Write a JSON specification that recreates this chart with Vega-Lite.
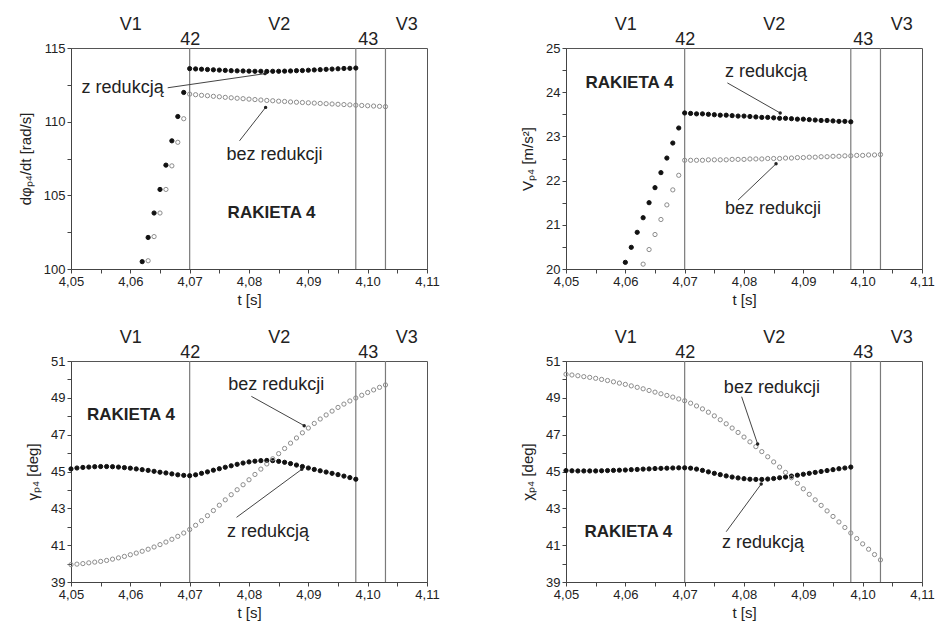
{
"$schema": "https://vega.github.io/schema/vega-lite/v6.json",
"padding": {"left": 17, "top": 14, "right": 4, "bottom": 2},
"background": "white",
"config": {
 "view": {"stroke": "#555555", "strokeWidth": 1},
 "axis": {"grid": false, "domainColor": "#444444", "tickColor": "#444444", "labelColor": "#222222", "labelFont": "Liberation Sans", "labelFontSize": 13, "titleFont": "Liberation Sans", "titleFontSize": 15, "titleFontWeight": "normal", "titleColor": "#222222", "labelOverlap": false, "labelFlush": false},
 "text": {"font": "Liberation Sans", "fontSize": 18, "color": "#222222"}
},
"datasets": {
 "p1": [
  {"t":4.062,"v":100.5,"s":"z"},{"t":4.063,"v":102.14,"s":"z"},{"t":4.064,"v":103.8,"s":"z"},{"t":4.065,"v":105.4,"s":"z"},{"t":4.066,"v":107.05,"s":"z"},{"t":4.067,"v":108.7,"s":"z"},{"t":4.068,"v":110.35,"s":"z"},{"t":4.069,"v":111.98,"s":"z"},
  {"t":4.070,"v":113.6,"s":"z"},{"t":4.071,"v":113.58,"s":"z"},{"t":4.072,"v":113.56,"s":"z"},{"t":4.073,"v":113.54,"s":"z"},{"t":4.074,"v":113.52,"s":"z"},{"t":4.075,"v":113.5,"s":"z"},{"t":4.076,"v":113.48,"s":"z"},{"t":4.077,"v":113.46,"s":"z"},{"t":4.078,"v":113.45,"s":"z"},{"t":4.079,"v":113.44,"s":"z"},{"t":4.080,"v":113.43,"s":"z"},{"t":4.081,"v":113.42,"s":"z"},{"t":4.082,"v":113.42,"s":"z"},{"t":4.083,"v":113.41,"s":"z"},{"t":4.084,"v":113.42,"s":"z"},{"t":4.085,"v":113.42,"s":"z"},{"t":4.086,"v":113.43,"s":"z"},{"t":4.087,"v":113.44,"s":"z"},{"t":4.088,"v":113.46,"s":"z"},{"t":4.089,"v":113.47,"s":"z"},{"t":4.090,"v":113.49,"s":"z"},{"t":4.091,"v":113.51,"s":"z"},{"t":4.092,"v":113.53,"s":"z"},{"t":4.093,"v":113.55,"s":"z"},{"t":4.094,"v":113.57,"s":"z"},{"t":4.095,"v":113.59,"s":"z"},{"t":4.096,"v":113.61,"s":"z"},{"t":4.097,"v":113.62,"s":"z"},{"t":4.098,"v":113.64,"s":"z"},
  {"t":4.063,"v":100.56,"s":"b"},{"t":4.064,"v":102.2,"s":"b"},{"t":4.065,"v":103.8,"s":"b"},{"t":4.066,"v":105.4,"s":"b"},{"t":4.067,"v":107.0,"s":"b"},{"t":4.068,"v":108.6,"s":"b"},{"t":4.069,"v":110.2,"s":"b"},
  {"t":4.070,"v":111.87,"s":"b"},{"t":4.071,"v":111.83,"s":"b"},{"t":4.072,"v":111.79,"s":"b"},{"t":4.073,"v":111.76,"s":"b"},{"t":4.074,"v":111.72,"s":"b"},{"t":4.075,"v":111.69,"s":"b"},{"t":4.076,"v":111.65,"s":"b"},{"t":4.077,"v":111.62,"s":"b"},{"t":4.078,"v":111.59,"s":"b"},{"t":4.079,"v":111.56,"s":"b"},{"t":4.080,"v":111.53,"s":"b"},{"t":4.081,"v":111.5,"s":"b"},{"t":4.082,"v":111.47,"s":"b"},{"t":4.083,"v":111.44,"s":"b"},{"t":4.084,"v":111.42,"s":"b"},{"t":4.085,"v":111.39,"s":"b"},{"t":4.086,"v":111.37,"s":"b"},{"t":4.087,"v":111.34,"s":"b"},{"t":4.088,"v":111.32,"s":"b"},{"t":4.089,"v":111.3,"s":"b"},{"t":4.090,"v":111.28,"s":"b"},{"t":4.091,"v":111.26,"s":"b"},{"t":4.092,"v":111.24,"s":"b"},{"t":4.093,"v":111.22,"s":"b"},{"t":4.094,"v":111.2,"s":"b"},{"t":4.095,"v":111.18,"s":"b"},{"t":4.096,"v":111.16,"s":"b"},{"t":4.097,"v":111.14,"s":"b"},{"t":4.098,"v":111.12,"s":"b"},{"t":4.099,"v":111.1,"s":"b"},{"t":4.100,"v":111.08,"s":"b"},{"t":4.101,"v":111.06,"s":"b"},{"t":4.102,"v":111.04,"s":"b"},{"t":4.103,"v":111.02,"s":"b"}
 ],
 "p2": [
  {"t":4.060,"v":20.15,"s":"z"},{"t":4.061,"v":20.49,"s":"z"},{"t":4.062,"v":20.83,"s":"z"},{"t":4.063,"v":21.16,"s":"z"},{"t":4.064,"v":21.5,"s":"z"},{"t":4.065,"v":21.84,"s":"z"},{"t":4.066,"v":22.18,"s":"z"},{"t":4.067,"v":22.51,"s":"z"},{"t":4.068,"v":22.85,"s":"z"},{"t":4.069,"v":23.19,"s":"z"},
  {"t":4.070,"v":23.53,"s":"z"},{"t":4.071,"v":23.52,"s":"z"},{"t":4.072,"v":23.51,"s":"z"},{"t":4.073,"v":23.51,"s":"z"},{"t":4.074,"v":23.5,"s":"z"},{"t":4.075,"v":23.49,"s":"z"},{"t":4.076,"v":23.48,"s":"z"},{"t":4.077,"v":23.48,"s":"z"},{"t":4.078,"v":23.47,"s":"z"},{"t":4.079,"v":23.46,"s":"z"},{"t":4.080,"v":23.46,"s":"z"},{"t":4.081,"v":23.45,"s":"z"},{"t":4.082,"v":23.44,"s":"z"},{"t":4.083,"v":23.43,"s":"z"},{"t":4.084,"v":23.43,"s":"z"},{"t":4.085,"v":23.42,"s":"z"},{"t":4.086,"v":23.41,"s":"z"},{"t":4.087,"v":23.41,"s":"z"},{"t":4.088,"v":23.4,"s":"z"},{"t":4.089,"v":23.39,"s":"z"},{"t":4.090,"v":23.39,"s":"z"},{"t":4.091,"v":23.38,"s":"z"},{"t":4.092,"v":23.37,"s":"z"},{"t":4.093,"v":23.36,"s":"z"},{"t":4.094,"v":23.36,"s":"z"},{"t":4.095,"v":23.35,"s":"z"},{"t":4.096,"v":23.34,"s":"z"},{"t":4.097,"v":23.34,"s":"z"},{"t":4.098,"v":23.33,"s":"z"},
  {"t":4.063,"v":20.11,"s":"b"},{"t":4.064,"v":20.44,"s":"b"},{"t":4.065,"v":20.78,"s":"b"},{"t":4.066,"v":21.12,"s":"b"},{"t":4.067,"v":21.45,"s":"b"},{"t":4.068,"v":21.79,"s":"b"},{"t":4.069,"v":22.12,"s":"b"},
  {"t":4.070,"v":22.46,"s":"b"},{"t":4.071,"v":22.46,"s":"b"},{"t":4.072,"v":22.46,"s":"b"},{"t":4.073,"v":22.46,"s":"b"},{"t":4.074,"v":22.47,"s":"b"},{"t":4.075,"v":22.47,"s":"b"},{"t":4.076,"v":22.47,"s":"b"},{"t":4.077,"v":22.47,"s":"b"},{"t":4.078,"v":22.48,"s":"b"},{"t":4.079,"v":22.48,"s":"b"},{"t":4.080,"v":22.48,"s":"b"},{"t":4.081,"v":22.49,"s":"b"},{"t":4.082,"v":22.49,"s":"b"},{"t":4.083,"v":22.49,"s":"b"},{"t":4.084,"v":22.5,"s":"b"},{"t":4.085,"v":22.5,"s":"b"},{"t":4.086,"v":22.5,"s":"b"},{"t":4.087,"v":22.51,"s":"b"},{"t":4.088,"v":22.51,"s":"b"},{"t":4.089,"v":22.52,"s":"b"},{"t":4.090,"v":22.52,"s":"b"},{"t":4.091,"v":22.53,"s":"b"},{"t":4.092,"v":22.53,"s":"b"},{"t":4.093,"v":22.54,"s":"b"},{"t":4.094,"v":22.54,"s":"b"},{"t":4.095,"v":22.55,"s":"b"},{"t":4.096,"v":22.55,"s":"b"},{"t":4.097,"v":22.56,"s":"b"},{"t":4.098,"v":22.56,"s":"b"},{"t":4.099,"v":22.57,"s":"b"},{"t":4.100,"v":22.57,"s":"b"},{"t":4.101,"v":22.58,"s":"b"},{"t":4.102,"v":22.58,"s":"b"},{"t":4.103,"v":22.59,"s":"b"}
 ],
 "p3": [
  {"t":4.050,"v":45.14,"s":"z"},{"t":4.051,"v":45.19,"s":"z"},{"t":4.052,"v":45.22,"s":"z"},{"t":4.053,"v":45.24,"s":"z"},{"t":4.054,"v":45.26,"s":"z"},{"t":4.055,"v":45.27,"s":"z"},{"t":4.056,"v":45.27,"s":"z"},{"t":4.057,"v":45.26,"s":"z"},{"t":4.058,"v":45.24,"s":"z"},{"t":4.059,"v":45.21,"s":"z"},{"t":4.060,"v":45.18,"s":"z"},{"t":4.061,"v":45.14,"s":"z"},{"t":4.062,"v":45.1,"s":"z"},{"t":4.063,"v":45.06,"s":"z"},{"t":4.064,"v":45.01,"s":"z"},{"t":4.065,"v":44.96,"s":"z"},{"t":4.066,"v":44.92,"s":"z"},{"t":4.067,"v":44.87,"s":"z"},{"t":4.068,"v":44.82,"s":"z"},{"t":4.069,"v":44.79,"s":"z"},{"t":4.070,"v":44.77,"s":"z"},{"t":4.071,"v":44.82,"s":"z"},{"t":4.072,"v":44.9,"s":"z"},{"t":4.073,"v":44.98,"s":"z"},{"t":4.074,"v":45.07,"s":"z"},{"t":4.075,"v":45.15,"s":"z"},{"t":4.076,"v":45.23,"s":"z"},{"t":4.077,"v":45.31,"s":"z"},{"t":4.078,"v":45.39,"s":"z"},{"t":4.079,"v":45.46,"s":"z"},{"t":4.080,"v":45.52,"s":"z"},{"t":4.081,"v":45.56,"s":"z"},{"t":4.082,"v":45.59,"s":"z"},{"t":4.083,"v":45.6,"s":"z"},{"t":4.084,"v":45.59,"s":"z"},{"t":4.085,"v":45.55,"s":"z"},{"t":4.086,"v":45.5,"s":"z"},{"t":4.087,"v":45.43,"s":"z"},{"t":4.088,"v":45.35,"s":"z"},{"t":4.089,"v":45.27,"s":"z"},{"t":4.090,"v":45.19,"s":"z"},{"t":4.091,"v":45.11,"s":"z"},{"t":4.092,"v":45.04,"s":"z"},{"t":4.093,"v":44.97,"s":"z"},{"t":4.094,"v":44.9,"s":"z"},{"t":4.095,"v":44.83,"s":"z"},{"t":4.096,"v":44.75,"s":"z"},{"t":4.097,"v":44.67,"s":"z"},{"t":4.098,"v":44.58,"s":"z"},
  {"t":4.050,"v":39.94,"s":"b"},{"t":4.051,"v":39.97,"s":"b"},{"t":4.052,"v":40.0,"s":"b"},{"t":4.053,"v":40.04,"s":"b"},{"t":4.054,"v":40.08,"s":"b"},{"t":4.055,"v":40.12,"s":"b"},{"t":4.056,"v":40.17,"s":"b"},{"t":4.057,"v":40.24,"s":"b"},{"t":4.058,"v":40.31,"s":"b"},{"t":4.059,"v":40.39,"s":"b"},{"t":4.060,"v":40.48,"s":"b"},{"t":4.061,"v":40.57,"s":"b"},{"t":4.062,"v":40.67,"s":"b"},{"t":4.063,"v":40.78,"s":"b"},{"t":4.064,"v":40.9,"s":"b"},{"t":4.065,"v":41.03,"s":"b"},{"t":4.066,"v":41.17,"s":"b"},{"t":4.067,"v":41.32,"s":"b"},{"t":4.068,"v":41.48,"s":"b"},{"t":4.069,"v":41.66,"s":"b"},{"t":4.070,"v":41.85,"s":"b"},{"t":4.071,"v":42.08,"s":"b"},{"t":4.072,"v":42.33,"s":"b"},{"t":4.073,"v":42.6,"s":"b"},{"t":4.074,"v":42.88,"s":"b"},{"t":4.075,"v":43.17,"s":"b"},{"t":4.076,"v":43.46,"s":"b"},{"t":4.077,"v":43.74,"s":"b"},{"t":4.078,"v":44.01,"s":"b"},{"t":4.079,"v":44.28,"s":"b"},{"t":4.080,"v":44.55,"s":"b"},{"t":4.081,"v":44.84,"s":"b"},{"t":4.082,"v":45.13,"s":"b"},{"t":4.083,"v":45.41,"s":"b"},{"t":4.084,"v":45.69,"s":"b"},{"t":4.085,"v":45.97,"s":"b"},{"t":4.086,"v":46.25,"s":"b"},{"t":4.087,"v":46.54,"s":"b"},{"t":4.088,"v":46.82,"s":"b"},{"t":4.089,"v":47.1,"s":"b"},{"t":4.090,"v":47.36,"s":"b"},{"t":4.091,"v":47.61,"s":"b"},{"t":4.092,"v":47.85,"s":"b"},{"t":4.093,"v":48.07,"s":"b"},{"t":4.094,"v":48.28,"s":"b"},{"t":4.095,"v":48.48,"s":"b"},{"t":4.096,"v":48.66,"s":"b"},{"t":4.097,"v":48.83,"s":"b"},{"t":4.098,"v":48.99,"s":"b"},{"t":4.099,"v":49.14,"s":"b"},{"t":4.100,"v":49.29,"s":"b"},{"t":4.101,"v":49.43,"s":"b"},{"t":4.102,"v":49.57,"s":"b"},{"t":4.103,"v":49.7,"s":"b"}
 ],
 "p4": [
  {"t":4.050,"v":45.05,"s":"z"},{"t":4.051,"v":45.04,"s":"z"},{"t":4.052,"v":45.03,"s":"z"},{"t":4.053,"v":45.03,"s":"z"},{"t":4.054,"v":45.03,"s":"z"},{"t":4.055,"v":45.03,"s":"z"},{"t":4.056,"v":45.04,"s":"z"},{"t":4.057,"v":45.05,"s":"z"},{"t":4.058,"v":45.06,"s":"z"},{"t":4.059,"v":45.07,"s":"z"},{"t":4.060,"v":45.08,"s":"z"},{"t":4.061,"v":45.1,"s":"z"},{"t":4.062,"v":45.11,"s":"z"},{"t":4.063,"v":45.13,"s":"z"},{"t":4.064,"v":45.14,"s":"z"},{"t":4.065,"v":45.16,"s":"z"},{"t":4.066,"v":45.17,"s":"z"},{"t":4.067,"v":45.18,"s":"z"},{"t":4.068,"v":45.19,"s":"z"},{"t":4.069,"v":45.2,"s":"z"},{"t":4.070,"v":45.2,"s":"z"},{"t":4.071,"v":45.18,"s":"z"},{"t":4.072,"v":45.13,"s":"z"},{"t":4.073,"v":45.06,"s":"z"},{"t":4.074,"v":44.98,"s":"z"},{"t":4.075,"v":44.9,"s":"z"},{"t":4.076,"v":44.83,"s":"z"},{"t":4.077,"v":44.76,"s":"z"},{"t":4.078,"v":44.7,"s":"z"},{"t":4.079,"v":44.65,"s":"z"},{"t":4.080,"v":44.61,"s":"z"},{"t":4.081,"v":44.58,"s":"z"},{"t":4.082,"v":44.57,"s":"z"},{"t":4.083,"v":44.57,"s":"z"},{"t":4.084,"v":44.59,"s":"z"},{"t":4.085,"v":44.62,"s":"z"},{"t":4.086,"v":44.66,"s":"z"},{"t":4.087,"v":44.7,"s":"z"},{"t":4.088,"v":44.75,"s":"z"},{"t":4.089,"v":44.8,"s":"z"},{"t":4.090,"v":44.85,"s":"z"},{"t":4.091,"v":44.9,"s":"z"},{"t":4.092,"v":44.95,"s":"z"},{"t":4.093,"v":45.0,"s":"z"},{"t":4.094,"v":45.05,"s":"z"},{"t":4.095,"v":45.1,"s":"z"},{"t":4.096,"v":45.15,"s":"z"},{"t":4.097,"v":45.19,"s":"z"},{"t":4.098,"v":45.24,"s":"z"},
  {"t":4.050,"v":50.28,"s":"b"},{"t":4.051,"v":50.24,"s":"b"},{"t":4.052,"v":50.2,"s":"b"},{"t":4.053,"v":50.15,"s":"b"},{"t":4.054,"v":50.11,"s":"b"},{"t":4.055,"v":50.06,"s":"b"},{"t":4.056,"v":50.0,"s":"b"},{"t":4.057,"v":49.94,"s":"b"},{"t":4.058,"v":49.87,"s":"b"},{"t":4.059,"v":49.8,"s":"b"},{"t":4.060,"v":49.73,"s":"b"},{"t":4.061,"v":49.65,"s":"b"},{"t":4.062,"v":49.57,"s":"b"},{"t":4.063,"v":49.49,"s":"b"},{"t":4.064,"v":49.4,"s":"b"},{"t":4.065,"v":49.31,"s":"b"},{"t":4.066,"v":49.22,"s":"b"},{"t":4.067,"v":49.13,"s":"b"},{"t":4.068,"v":49.04,"s":"b"},{"t":4.069,"v":48.94,"s":"b"},{"t":4.070,"v":48.84,"s":"b"},{"t":4.071,"v":48.71,"s":"b"},{"t":4.072,"v":48.56,"s":"b"},{"t":4.073,"v":48.4,"s":"b"},{"t":4.074,"v":48.22,"s":"b"},{"t":4.075,"v":48.02,"s":"b"},{"t":4.076,"v":47.81,"s":"b"},{"t":4.077,"v":47.59,"s":"b"},{"t":4.078,"v":47.36,"s":"b"},{"t":4.079,"v":47.12,"s":"b"},{"t":4.080,"v":46.87,"s":"b"},{"t":4.081,"v":46.61,"s":"b"},{"t":4.082,"v":46.35,"s":"b"},{"t":4.083,"v":46.08,"s":"b"},{"t":4.084,"v":45.8,"s":"b"},{"t":4.085,"v":45.52,"s":"b"},{"t":4.086,"v":45.24,"s":"b"},{"t":4.087,"v":44.95,"s":"b"},{"t":4.088,"v":44.66,"s":"b"},{"t":4.089,"v":44.36,"s":"b"},{"t":4.090,"v":44.06,"s":"b"},{"t":4.091,"v":43.76,"s":"b"},{"t":4.092,"v":43.46,"s":"b"},{"t":4.093,"v":43.16,"s":"b"},{"t":4.094,"v":42.86,"s":"b"},{"t":4.095,"v":42.56,"s":"b"},{"t":4.096,"v":42.26,"s":"b"},{"t":4.097,"v":41.96,"s":"b"},{"t":4.098,"v":41.66,"s":"b"},{"t":4.099,"v":41.36,"s":"b"},{"t":4.100,"v":41.07,"s":"b"},{"t":4.101,"v":40.78,"s":"b"},{"t":4.102,"v":40.49,"s":"b"},{"t":4.103,"v":40.2,"s":"b"}
 ]
},
"columns": 2,
"spacing": {"row": 19, "column": 80},
"concat": [
 {
  "width": 356, "height": 221,
  "resolve": {"axis": {"x": "independent", "y": "independent"}},
  "layer": [
   {"data": {"values": [{"t":4.07},{"t":4.098},{"t":4.103}]},
    "mark": {"type": "rule", "color": "#7a7a7a", "strokeWidth": 1.2},
    "encoding": {"x": {"field": "t", "type": "quantitative", "scale": {"domain": [4.05, 4.11], "nice": false, "zero": false},
      "axis": {"orient": "top", "values": [4.07, 4.1], "labelExpr": "datum.value < 4.08 ? '42' : '43'", "ticks": false, "domain": false, "labelFontSize": 18, "labelPadding": 4, "labelBaseline": "alphabetic", "title": null, "labelFlush": false}}}},
   {"data": {"name": "p1"},
    "mark": {"type": "point", "shape": "circle", "size": 18, "strokeWidth": 1, "opacity": 1},
    "encoding": {
     "x": {"field": "t", "type": "quantitative", "scale": {"domain": [4.05, 4.11], "nice": false, "zero": false},
      "axis": {"orient": "bottom", "title": "t [s]", "values": [4.05,4.055,4.06,4.065,4.07,4.075,4.08,4.085,4.09,4.095,4.1,4.105,4.11], "labelExpr": "round(datum.value*1000) % 10 == 0 ? replace(format(datum.value, '.2f'), '.', ',') : ''", "tickSize": 4, "labelPadding": 2, "titlePadding": 4, "labelFlush": false}},
     "y": {"field": "v", "type": "quantitative", "scale": {"domain": [100, 115], "nice": false, "zero": false},
      "axis": {"orient": "left", "title": "dφₚ₄/dt [rad/s]", "values": [100,102.5,105,107.5,110,112.5,115], "labelExpr": "datum.value % 5 == 0 ? format(datum.value, 'd') : ''", "tickSize": 4, "labelPadding": 2, "titlePadding": 10}},
     "fill": {"field": "s", "type": "nominal", "scale": {"domain": ["z", "b"], "range": ["#111111", "transparent"]}, "legend": null},
     "stroke": {"field": "s", "type": "nominal", "scale": {"domain": ["z", "b"], "range": ["#111111", "#8c8c8c"]}, "legend": null}
    }},
   {"data": {"values": [{"t":4.0587,"v":112.3,"txt":"z redukcją"},{"t":4.0843,"v":107.77,"txt":"bez redukcji"}]},
    "mark": {"type": "text"},
    "encoding": {
     "x": {"field": "t", "type": "quantitative", "axis": {"orient": "top", "offset": 15, "values": [4.06, 4.085, 4.1065], "labelExpr": "datum.value < 4.07 ? 'V1' : (datum.value < 4.1 ? 'V2' : 'V3')", "ticks": false, "domain": false, "labelFontSize": 18, "labelPadding": 4, "labelBaseline": "alphabetic", "title": null, "labelFlush": false}},
     "y": {"field": "v", "type": "quantitative", "axis": null},
     "text": {"field": "txt"}}},
   {"data": {"values": [{"t":4.0838,"v":103.8,"txt":"RAKIETA 4"}]},
    "mark": {"type": "text", "fontWeight": "bold", "fontSize": 17},
    "encoding": {"x": {"field": "t", "type": "quantitative", "axis": null}, "y": {"field": "v", "type": "quantitative", "axis": null}, "text": {"field": "txt"}}},
   {"data": {"values": [{"t":4.0663,"v":112.3,"t2":4.0827,"v2":113.26},{"t":4.0784,"v":108.7,"t2":4.0828,"v2":110.97}]},
    "mark": {"type": "rule", "color": "#444444", "strokeWidth": 1},
    "encoding": {"x": {"field": "t", "type": "quantitative", "axis": null}, "y": {"field": "v", "type": "quantitative", "axis": null}, "x2": {"field": "t2"}, "y2": {"field": "v2"}}},
   {"data": {"values": [{"t":4.0663,"v":112.3,"t2":4.0827,"v2":113.26},{"t":4.0784,"v":108.7,"t2":4.0828,"v2":110.97}]},
    "mark": {"type": "point", "shape": "circle", "filled": true, "size": 12, "color": "#222222", "opacity": 1},
    "encoding": {"x": {"field": "t2", "type": "quantitative", "axis": null}, "y": {"field": "v2", "type": "quantitative", "axis": null}}}
  ]
 },
 {
  "width": 356, "height": 221,
  "resolve": {"axis": {"x": "independent", "y": "independent"}},
  "layer": [
   {"data": {"values": [{"t":4.07},{"t":4.098},{"t":4.103}]},
    "mark": {"type": "rule", "color": "#7a7a7a", "strokeWidth": 1.2},
    "encoding": {"x": {"field": "t", "type": "quantitative", "scale": {"domain": [4.05, 4.11], "nice": false, "zero": false},
      "axis": {"orient": "top", "values": [4.07, 4.1], "labelExpr": "datum.value < 4.08 ? '42' : '43'", "ticks": false, "domain": false, "labelFontSize": 18, "labelPadding": 4, "labelBaseline": "alphabetic", "title": null, "labelFlush": false}}}},
   {"data": {"name": "p2"},
    "mark": {"type": "point", "shape": "circle", "size": 18, "strokeWidth": 1, "opacity": 1},
    "encoding": {
     "x": {"field": "t", "type": "quantitative", "scale": {"domain": [4.05, 4.11], "nice": false, "zero": false},
      "axis": {"orient": "bottom", "title": "t [s]", "values": [4.05,4.055,4.06,4.065,4.07,4.075,4.08,4.085,4.09,4.095,4.1,4.105,4.11], "labelExpr": "round(datum.value*1000) % 10 == 0 ? replace(format(datum.value, '.2f'), '.', ',') : ''", "tickSize": 4, "labelPadding": 2, "titlePadding": 4, "labelFlush": false}},
     "y": {"field": "v", "type": "quantitative", "scale": {"domain": [20, 25], "nice": false, "zero": false},
      "axis": {"orient": "left", "title": "Vₚ₄ [m/s²]", "values": [20,20.5,21,21.5,22,22.5,23,23.5,24,24.5,25], "labelExpr": "datum.value % 1 == 0 ? format(datum.value, 'd') : ''", "tickSize": 4, "labelPadding": 2, "titlePadding": 10}},
     "fill": {"field": "s", "type": "nominal", "scale": {"domain": ["z", "b"], "range": ["#111111", "transparent"]}, "legend": null},
     "stroke": {"field": "s", "type": "nominal", "scale": {"domain": ["z", "b"], "range": ["#111111", "#8c8c8c"]}, "legend": null}
    }},
   {"data": {"values": [{"t":4.0837,"v":24.46,"txt":"z redukcją"},{"t":4.0849,"v":21.36,"txt":"bez redukcji"}]},
    "mark": {"type": "text"},
    "encoding": {
     "x": {"field": "t", "type": "quantitative", "axis": {"orient": "top", "offset": 15, "values": [4.06, 4.085, 4.1065], "labelExpr": "datum.value < 4.07 ? 'V1' : (datum.value < 4.1 ? 'V2' : 'V3')", "ticks": false, "domain": false, "labelFontSize": 18, "labelPadding": 4, "labelBaseline": "alphabetic", "title": null, "labelFlush": false}},
     "y": {"field": "v", "type": "quantitative", "axis": null},
     "text": {"field": "txt"}}},
   {"data": {"values": [{"t":4.0607,"v":24.21,"txt":"RAKIETA 4"}]},
    "mark": {"type": "text", "fontWeight": "bold", "fontSize": 17},
    "encoding": {"x": {"field": "t", "type": "quantitative", "axis": null}, "y": {"field": "v", "type": "quantitative", "axis": null}, "text": {"field": "txt"}}},
   {"data": {"values": [{"t":4.0772,"v":24.21,"t2":4.0861,"v2":23.53},{"t":4.079,"v":21.56,"t2":4.0854,"v2":22.38}]},
    "mark": {"type": "rule", "color": "#444444", "strokeWidth": 1},
    "encoding": {"x": {"field": "t", "type": "quantitative", "axis": null}, "y": {"field": "v", "type": "quantitative", "axis": null}, "x2": {"field": "t2"}, "y2": {"field": "v2"}}},
   {"data": {"values": [{"t":4.0772,"v":24.21,"t2":4.0861,"v2":23.53},{"t":4.079,"v":21.56,"t2":4.0854,"v2":22.38}]},
    "mark": {"type": "point", "shape": "circle", "filled": true, "size": 12, "color": "#222222", "opacity": 1},
    "encoding": {"x": {"field": "t2", "type": "quantitative", "axis": null}, "y": {"field": "v2", "type": "quantitative", "axis": null}}}
  ]
 },
 {
  "width": 356, "height": 221,
  "resolve": {"axis": {"x": "independent", "y": "independent"}},
  "layer": [
   {"data": {"values": [{"t":4.07},{"t":4.098},{"t":4.103}]},
    "mark": {"type": "rule", "color": "#7a7a7a", "strokeWidth": 1.2},
    "encoding": {"x": {"field": "t", "type": "quantitative", "scale": {"domain": [4.05, 4.11], "nice": false, "zero": false},
      "axis": {"orient": "top", "values": [4.07, 4.1], "labelExpr": "datum.value < 4.08 ? '42' : '43'", "ticks": false, "domain": false, "labelFontSize": 18, "labelPadding": 4, "labelBaseline": "alphabetic", "title": null, "labelFlush": false}}}},
   {"data": {"name": "p3"},
    "mark": {"type": "point", "shape": "circle", "size": 18, "strokeWidth": 1, "opacity": 1},
    "encoding": {
     "x": {"field": "t", "type": "quantitative", "scale": {"domain": [4.05, 4.11], "nice": false, "zero": false},
      "axis": {"orient": "bottom", "title": "t [s]", "values": [4.05,4.055,4.06,4.065,4.07,4.075,4.08,4.085,4.09,4.095,4.1,4.105,4.11], "labelExpr": "round(datum.value*1000) % 10 == 0 ? replace(format(datum.value, '.2f'), '.', ',') : ''", "tickSize": 4, "labelPadding": 2, "titlePadding": 4, "labelFlush": false}},
     "y": {"field": "v", "type": "quantitative", "scale": {"domain": [39, 51], "nice": false, "zero": false},
      "axis": {"orient": "left", "title": "γₚ₄ [deg]", "values": [39,40,41,42,43,44,45,46,47,48,49,50,51], "labelExpr": "(datum.value - 39) % 2 == 0 ? format(datum.value, 'd') : ''", "tickSize": 4, "labelPadding": 2, "titlePadding": 10}},
     "fill": {"field": "s", "type": "nominal", "scale": {"domain": ["z", "b"], "range": ["#111111", "transparent"]}, "legend": null},
     "stroke": {"field": "s", "type": "nominal", "scale": {"domain": ["z", "b"], "range": ["#111111", "#8c8c8c"]}, "legend": null}
    }},
   {"data": {"values": [{"t":4.0846,"v":49.7,"txt":"bez redukcji"},{"t":4.0832,"v":41.7,"txt":"z redukcją"}]},
    "mark": {"type": "text"},
    "encoding": {
     "x": {"field": "t", "type": "quantitative", "axis": {"orient": "top", "offset": 15, "values": [4.06, 4.085, 4.1065], "labelExpr": "datum.value < 4.07 ? 'V1' : (datum.value < 4.1 ? 'V2' : 'V3')", "ticks": false, "domain": false, "labelFontSize": 18, "labelPadding": 4, "labelBaseline": "alphabetic", "title": null, "labelFlush": false}},
     "y": {"field": "v", "type": "quantitative", "axis": null},
     "text": {"field": "txt"}}},
   {"data": {"values": [{"t":4.0601,"v":48.09,"txt":"RAKIETA 4"}]},
    "mark": {"type": "text", "fontWeight": "bold", "fontSize": 17},
    "encoding": {"x": {"field": "t", "type": "quantitative", "axis": null}, "y": {"field": "v", "type": "quantitative", "axis": null}, "text": {"field": "txt"}}},
   {"data": {"values": [{"t":4.0804,"v":49.08,"t2":4.0893,"v2":47.49},{"t":4.0779,"v":42.51,"t2":4.0889,"v2":45.12}]},
    "mark": {"type": "rule", "color": "#444444", "strokeWidth": 1},
    "encoding": {"x": {"field": "t", "type": "quantitative", "axis": null}, "y": {"field": "v", "type": "quantitative", "axis": null}, "x2": {"field": "t2"}, "y2": {"field": "v2"}}},
   {"data": {"values": [{"t":4.0804,"v":49.08,"t2":4.0893,"v2":47.49},{"t":4.0779,"v":42.51,"t2":4.0889,"v2":45.12}]},
    "mark": {"type": "point", "shape": "circle", "filled": true, "size": 12, "color": "#222222", "opacity": 1},
    "encoding": {"x": {"field": "t2", "type": "quantitative", "axis": null}, "y": {"field": "v2", "type": "quantitative", "axis": null}}}
  ]
 },
 {
  "width": 356, "height": 221,
  "resolve": {"axis": {"x": "independent", "y": "independent"}},
  "layer": [
   {"data": {"values": [{"t":4.07},{"t":4.098},{"t":4.103}]},
    "mark": {"type": "rule", "color": "#7a7a7a", "strokeWidth": 1.2},
    "encoding": {"x": {"field": "t", "type": "quantitative", "scale": {"domain": [4.05, 4.11], "nice": false, "zero": false},
      "axis": {"orient": "top", "values": [4.07, 4.1], "labelExpr": "datum.value < 4.08 ? '42' : '43'", "ticks": false, "domain": false, "labelFontSize": 18, "labelPadding": 4, "labelBaseline": "alphabetic", "title": null, "labelFlush": false}}}},
   {"data": {"name": "p4"},
    "mark": {"type": "point", "shape": "circle", "size": 18, "strokeWidth": 1, "opacity": 1},
    "encoding": {
     "x": {"field": "t", "type": "quantitative", "scale": {"domain": [4.05, 4.11], "nice": false, "zero": false},
      "axis": {"orient": "bottom", "title": "t [s]", "values": [4.05,4.055,4.06,4.065,4.07,4.075,4.08,4.085,4.09,4.095,4.1,4.105,4.11], "labelExpr": "round(datum.value*1000) % 10 == 0 ? replace(format(datum.value, '.2f'), '.', ',') : ''", "tickSize": 4, "labelPadding": 2, "titlePadding": 4, "labelFlush": false}},
     "y": {"field": "v", "type": "quantitative", "scale": {"domain": [39, 51], "nice": false, "zero": false},
      "axis": {"orient": "left", "title": "χₚ₄ [deg]", "values": [39,40,41,42,43,44,45,46,47,48,49,50,51], "labelExpr": "(datum.value - 39) % 2 == 0 ? format(datum.value, 'd') : ''", "tickSize": 4, "labelPadding": 2, "titlePadding": 10}},
     "fill": {"field": "s", "type": "nominal", "scale": {"domain": ["z", "b"], "range": ["#111111", "transparent"]}, "legend": null},
     "stroke": {"field": "s", "type": "nominal", "scale": {"domain": ["z", "b"], "range": ["#111111", "#8c8c8c"]}, "legend": null}
    }},
   {"data": {"values": [{"t":4.0847,"v":49.52,"txt":"bez redukcji"},{"t":4.0832,"v":41.1,"txt":"z redukcją"}]},
    "mark": {"type": "text"},
    "encoding": {
     "x": {"field": "t", "type": "quantitative", "axis": {"orient": "top", "offset": 15, "values": [4.06, 4.085, 4.1065], "labelExpr": "datum.value < 4.07 ? 'V1' : (datum.value < 4.1 ? 'V2' : 'V3')", "ticks": false, "domain": false, "labelFontSize": 18, "labelPadding": 4, "labelBaseline": "alphabetic", "title": null, "labelFlush": false}},
     "y": {"field": "v", "type": "quantitative", "axis": null},
     "text": {"field": "txt"}}},
   {"data": {"values": [{"t":4.0605,"v":41.73,"txt":"RAKIETA 4"}]},
    "mark": {"type": "text", "fontWeight": "bold", "fontSize": 17},
    "encoding": {"x": {"field": "t", "type": "quantitative", "axis": null}, "y": {"field": "v", "type": "quantitative", "axis": null}, "text": {"field": "txt"}}},
   {"data": {"values": [{"t":4.0796,"v":49.06,"t2":4.0823,"v2":46.49},{"t":4.077,"v":41.73,"t2":4.0829,"v2":44.32}]},
    "mark": {"type": "rule", "color": "#444444", "strokeWidth": 1},
    "encoding": {"x": {"field": "t", "type": "quantitative", "axis": null}, "y": {"field": "v", "type": "quantitative", "axis": null}, "x2": {"field": "t2"}, "y2": {"field": "v2"}}},
   {"data": {"values": [{"t":4.0796,"v":49.06,"t2":4.0823,"v2":46.49},{"t":4.077,"v":41.73,"t2":4.0829,"v2":44.32}]},
    "mark": {"type": "point", "shape": "circle", "filled": true, "size": 12, "color": "#222222", "opacity": 1},
    "encoding": {"x": {"field": "t2", "type": "quantitative", "axis": null}, "y": {"field": "v2", "type": "quantitative", "axis": null}}}
  ]
 }
]
}
